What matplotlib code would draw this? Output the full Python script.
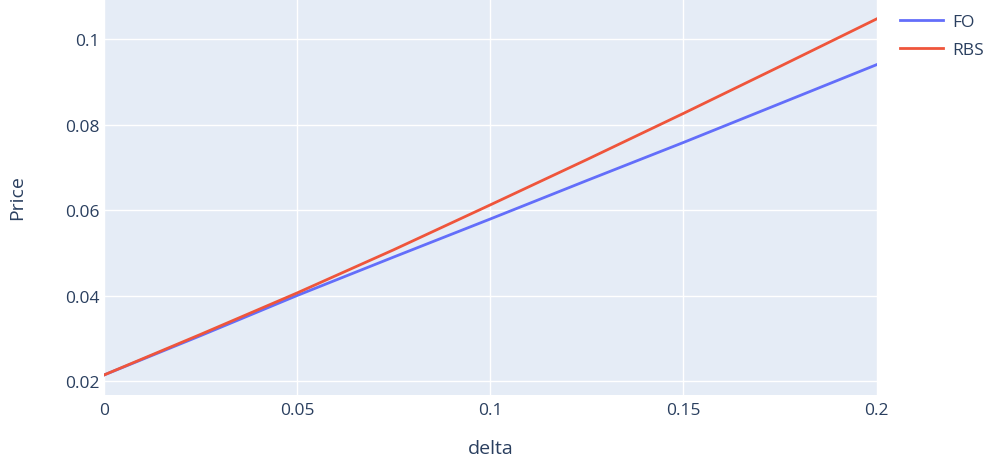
import numpy as np
import matplotlib
matplotlib.use('Agg')
from matplotlib import pyplot as plt

# values
delta = [0, 0.025, 0.05, 0.075, 0.1, 0.125, 0.15, 0.175, 0.2]
fo = [0.0214, 0.0306, 0.0400, 0.0490, 0.0579, 0.0669, 0.0758, 0.0849, 0.0940]
rbs = [0.0214, 0.0309, 0.0406, 0.0507, 0.0612, 0.0718, 0.0826, 0.0936, 0.1047]
xticks = [0, 0.05, 0.1, 0.15, 0.2]
xlabels = ['0', '0.05', '0.1', '0.15', '0.2']
yticks = [0.02, 0.04, 0.06, 0.08, 0.1]
ylabels = ['0.02', '0.04', '0.06', '0.08', '0.1']

txt = '#2a3f5f'
plt.rcParams['font.family'] = ['Open Sans', 'DejaVu Sans']

fig = plt.figure(figsize=(9.9, 4.64), dpi=100)
ax = fig.add_axes([0.105, 0.1466, 0.7805, 0.8534])
ax.set_facecolor('#e5ecf6')
for s in ax.spines.values():
    s.set_visible(False)

ax.plot(delta, fo, color='#636efa', lw=2, label='FO')
ax.plot(delta, rbs, color='#ef553b', lw=2, label='RBS')

ax.set_xlim(0, 0.2)
ax.set_ylim(0.01673, 0.10936)
ax.set_xticks(xticks)
ax.set_xticklabels(xlabels)
ax.set_yticks(yticks)
ax.set_yticklabels(ylabels)
ax.grid(color='white', lw=1)
ax.set_axisbelow(True)
ax.tick_params(length=0, labelsize=12.5, labelcolor=txt, pad=5)
ax.tick_params(axis='y', pad=3)

ax.set_xlabel('delta', fontsize=14, color=txt, labelpad=15)
ax.set_ylabel('Price', fontsize=14, color=txt, labelpad=28)

ax.legend(loc='upper left', bbox_to_anchor=(0.909, 0.968), bbox_transform=fig.transFigure,
          frameon=False, fontsize=12.5, labelcolor=txt, handlelength=2.5,
          handletextpad=0.5, labelspacing=0.68, borderaxespad=0, borderpad=0)

fig.savefig('out.png', dpi=100)
